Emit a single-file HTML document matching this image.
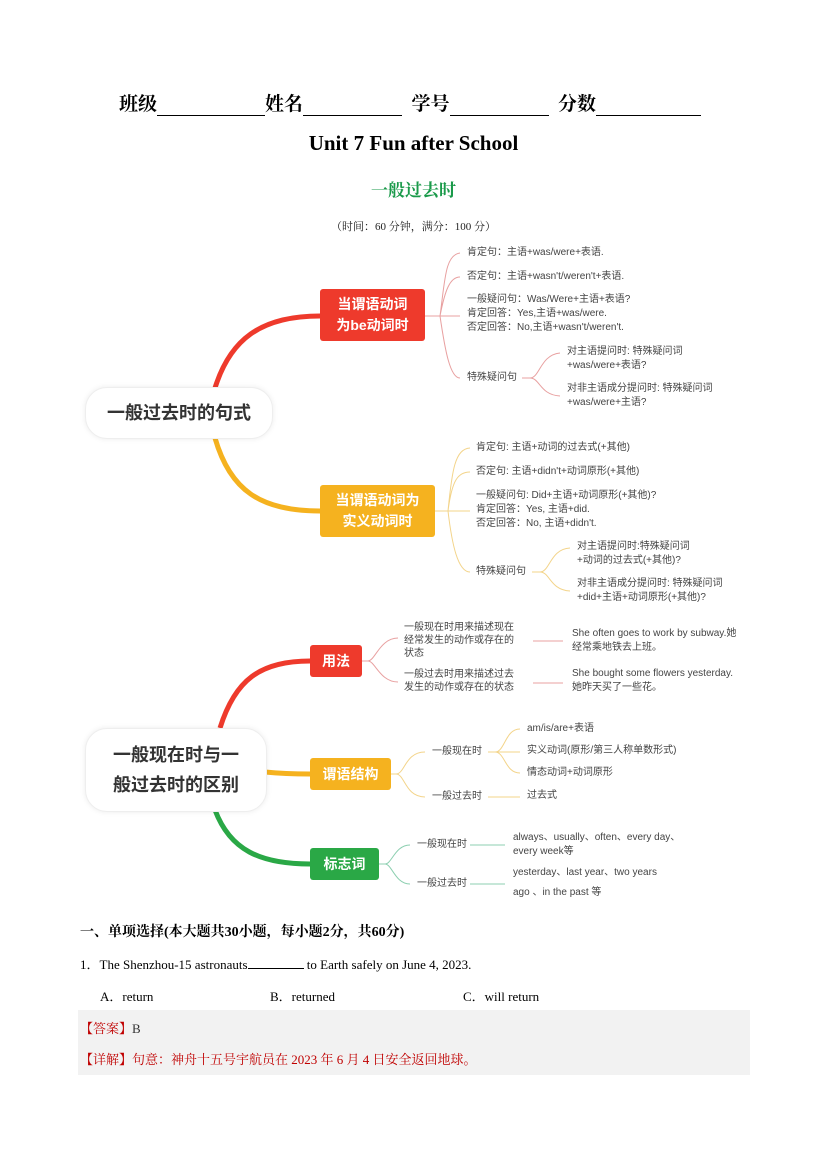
<!DOCTYPE html>
<html><head><meta charset="utf-8"><style>
body{margin:0;width:827px;height:1169px;background:#fff;position:relative;overflow:hidden;font-family:"Liberation Serif","Noto Serif CJK SC","Noto Sans CJK SC",serif;}
.a{position:absolute;white-space:nowrap;}
.s{font-family:"Liberation Sans","Noto Sans CJK SC",sans-serif;font-size:10px;color:#444;line-height:14px;}
.box{position:absolute;color:#fff;font-family:"Liberation Sans","Noto Sans CJK SC",sans-serif;font-weight:bold;font-size:14px;display:flex;align-items:center;justify-content:center;text-align:center;line-height:21px;border-radius:3px;}
.cen{position:absolute;background:#fff;border:1px solid #eee;border-radius:22px;box-shadow:0 0 6px rgba(0,0,0,0.08);font-family:"Liberation Sans","Noto Sans CJK SC",sans-serif;font-weight:bold;font-size:18px;color:#333;display:flex;align-items:center;justify-content:center;text-align:center;line-height:30px;}
u{text-decoration:none;border-bottom:1.5px solid #000;display:inline-block;height:18px;vertical-align:bottom;}
</style></head><body>
<div class="a" style="left:119px;top:89px;font-size:19px;font-weight:bold;font-family:'Liberation Serif','Noto Serif CJK SC',serif;">班级<u style="width:108px"></u>姓名<u style="width:99px"></u>&nbsp; 学号<u style="width:99px"></u>&nbsp; 分数<u style="width:105px"></u></div>
<div class="a" style="left:0;width:827px;text-align:center;top:131px;font-size:21px;font-weight:bold;">Unit 7 Fun after School</div>
<div class="a" style="left:0;width:827px;text-align:center;top:176px;font-size:17px;color:#1a9a4a;font-weight:bold;">一般过去时</div>
<div class="a" style="left:0;width:827px;text-align:center;top:218px;font-size:11px;color:#222;">（时间：60 分钟，满分：100 分）</div>

<svg class="a" style="left:0;top:0" width="827" height="1169">
<g fill="none">
<path d="M215 388 C230 340,260 316,320 316" stroke="#ee3a2c" stroke-width="5"/>
<path d="M215 438 C230 490,260 511,320 511" stroke="#f5b21f" stroke-width="5"/>
<g stroke="#e8a0a0" stroke-width="1">
<path d="M425 316 H440 M440 316 C445 280,445 255,460 253 M440 316 C445 290,450 277,460 277 M440 316 H460 M440 316 C445 350,450 378,460 378"/>
<path d="M522 378 H530 C540 378,540 355,560 353 M530 378 C540 378,540 395,560 396"/>
</g>
<g stroke="#f3d48a" stroke-width="1">
<path d="M435 511 H448 M448 511 C452 470,455 449,470 448 M448 511 C452 480,458 472,470 472 M448 511 H470 M448 511 C452 545,458 572,470 572"/>
<path d="M532 572 H540 C550 572,550 549,570 548 M540 572 C550 572,550 590,570 591"/>
</g>
<path d="M220 728 C235 680,260 661,310 661" stroke="#ee3a2c" stroke-width="5"/>
<path d="M265 772 C285 774,300 774,310 774" stroke="#f5b21f" stroke-width="5"/>
<path d="M215 810 C230 850,260 864,310 864" stroke="#2aa846" stroke-width="5"/>
<g stroke="#e8a0a0" stroke-width="1"><path d="M362 661 H368 C375 661,380 638,398 638 M368 661 C375 661,380 682,398 682 M533 641 H563 M533 683 H563"/></g>
<g stroke="#f3d48a" stroke-width="1"><path d="M391 774 H396 C405 774,405 752,425 752 M396 774 C405 774,405 797,425 797 M488 752 H495 C505 752,505 729,520 729 M495 752 H520 M495 752 C505 752,505 773,520 773 M488 797 H520"/></g>
<g stroke="#8ccfb0" stroke-width="1"><path d="M379 864 H385 C392 864,395 845,410 845 M385 864 C392 864,395 884,410 884 M470 845 H505 M470 884 H505"/></g>
</g></svg>

<div class="cen" style="left:85px;top:387px;width:186px;height:50px;">一般过去时的句式</div>
<div class="box" style="left:320px;top:289px;width:105px;height:52px;background:#ee3a2c;">当谓语动词<br>为be动词时</div>
<div class="box" style="left:320px;top:485px;width:115px;height:52px;background:#f5b21f;">当谓语动词为<br>实义动词时</div>

<div class="a s" style="left:467px;top:246px">肯定句：主语+was/were+表语.</div>
<div class="a s" style="left:467px;top:270px">否定句：主语+wasn't/weren't+表语.</div>
<div class="a s" style="left:467px;top:293px">一般疑问句：Was/Were+主语+表语?<br>肯定回答：Yes,主语+was/were.<br>否定回答：No,主语+wasn't/weren't.</div>
<div class="a s" style="left:467px;top:371px">特殊疑问句</div>
<div class="a s" style="left:567px;top:345px">对主语提问时: 特殊疑问词<br>+was/were+表语?</div>
<div class="a s" style="left:567px;top:382px">对非主语成分提问时: 特殊疑问词<br>+was/were+主语?</div>

<div class="a s" style="left:476px;top:441px">肯定句: 主语+动词的过去式(+其他)</div>
<div class="a s" style="left:476px;top:465px">否定句: 主语+didn't+动词原形(+其他)</div>
<div class="a s" style="left:476px;top:489px">一般疑问句: Did+主语+动词原形(+其他)?<br>肯定回答：Yes, 主语+did.<br>否定回答：No, 主语+didn't.</div>
<div class="a s" style="left:476px;top:565px">特殊疑问句</div>
<div class="a s" style="left:577px;top:540px">对主语提问时:特殊疑问词<br>+动词的过去式(+其他)?</div>
<div class="a s" style="left:577px;top:577px">对非主语成分提问时: 特殊疑问词<br>+did+主语+动词原形(+其他)?</div>

<div class="cen" style="left:85px;top:728px;width:180px;height:82px;">一般现在时与一<br>般过去时的区别</div>
<div class="box" style="left:310px;top:645px;width:52px;height:32px;background:#ee3a2c;">用法</div>
<div class="box" style="left:310px;top:758px;width:81px;height:32px;background:#f5b21f;">谓语结构</div>
<div class="box" style="left:310px;top:848px;width:69px;height:32px;background:#2aa846;">标志词</div>

<div class="a s" style="left:404px;top:621px;line-height:13px">一般现在时用来描述现在<br>经常发生的动作或存在的<br>状态</div>
<div class="a s" style="left:404px;top:668px;line-height:13px">一般过去时用来描述过去<br>发生的动作或存在的状态</div>
<div class="a s" style="left:572px;top:627px">She often goes to work by subway.她<br>经常乘地铁去上班。</div>
<div class="a s" style="left:572px;top:667px">She bought some flowers yesterday.<br>她昨天买了一些花。</div>

<div class="a s" style="left:432px;top:745px">一般现在时</div>
<div class="a s" style="left:432px;top:790px">一般过去时</div>
<div class="a s" style="left:527px;top:722px">am/is/are+表语</div>
<div class="a s" style="left:527px;top:744px">实义动词(原形/第三人称单数形式)</div>
<div class="a s" style="left:527px;top:766px">情态动词+动词原形</div>
<div class="a s" style="left:527px;top:789px">过去式</div>

<div class="a s" style="left:417px;top:838px">一般现在时</div>
<div class="a s" style="left:417px;top:877px">一般过去时</div>
<div class="a s" style="left:513px;top:831px">always、usually、often、every day、<br>every week等</div>
<div class="a s" style="left:513px;top:866px">yesterday、last year、two years</div>
<div class="a s" style="left:513px;top:886px">ago 、in the past 等</div>

<div class="a" style="left:80px;top:921px;font-size:14px;font-weight:bold;">一、单项选择(本大题共30小题，每小题2分，共60分)</div>
<div class="a" style="left:80px;top:954px;font-size:13px;">1．The Shenzhou-15 astronauts<span style="display:inline-block;width:56px;border-bottom:1px solid #000;height:12px;"></span> to Earth safely on June 4, 2023.</div>
<div class="a" style="left:100px;top:986px;font-size:13px;">A．return</div>
<div class="a" style="left:270px;top:986px;font-size:13px;">B．returned</div>
<div class="a" style="left:463px;top:986px;font-size:13px;">C．will return</div>
<div class="a" style="left:78px;top:1010px;width:672px;height:65px;background:#f2f2f2;"></div>
<div class="a" style="left:80px;top:1018px;font-size:13px;color:#c00000;">【答案】<span style="color:#333">B</span></div>
<div class="a" style="left:80px;top:1049px;font-size:13px;color:#c00000;">【详解】句意：神舟十五号宇航员在 2023 年 6 月 4 日安全返回地球。</div>
</body></html>
